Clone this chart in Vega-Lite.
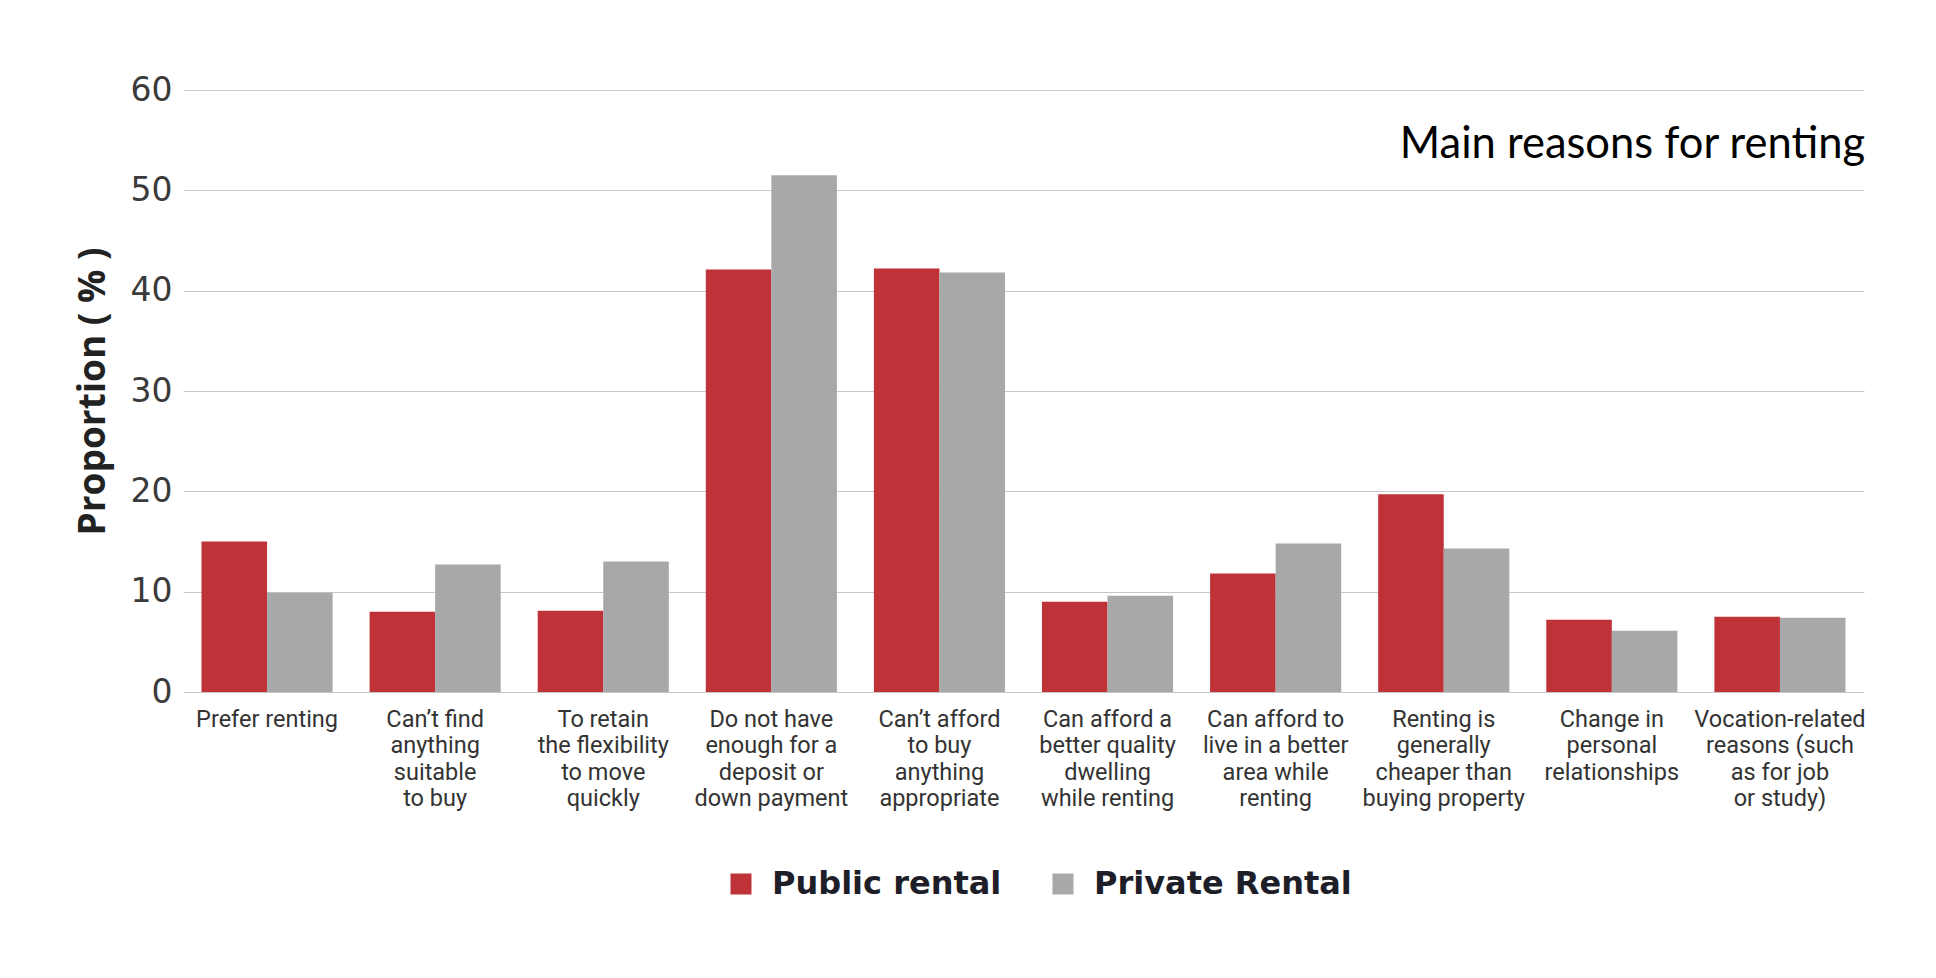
{
  "$schema": "https://vega.github.io/schema/vega-lite/v6.json",
  "autosize": "none",
  "width": 1681,
  "height": 602,
  "padding": {"left": 183, "top": 90, "right": 72, "bottom": 286},
  "background": "white",
  "title": {
    "text": "Main reasons for renting",
    "anchor": "end",
    "orient": "top",
    "offset": -93,
    "font": "Lato",
    "fontSize": 43.5,
    "fontWeight": "normal",
    "color": "#000000"
  },
  "data": {
    "values": [
      {"category": "Prefer renting", "tenure": "Public rental", "value": 15.0},
      {"category": "Prefer renting", "tenure": "Private Rental", "value": 9.9},
      {"category": "Can’t find|anything|suitable|to buy", "tenure": "Public rental", "value": 8.0},
      {"category": "Can’t find|anything|suitable|to buy", "tenure": "Private Rental", "value": 12.7},
      {"category": "To retain|the flexibility|to move|quickly", "tenure": "Public rental", "value": 8.1},
      {"category": "To retain|the flexibility|to move|quickly", "tenure": "Private Rental", "value": 13.0},
      {"category": "Do not have|enough for a|deposit or|down payment", "tenure": "Public rental", "value": 42.1},
      {"category": "Do not have|enough for a|deposit or|down payment", "tenure": "Private Rental", "value": 51.5},
      {"category": "Can’t afford|to buy|anything|appropriate", "tenure": "Public rental", "value": 42.2},
      {"category": "Can’t afford|to buy|anything|appropriate", "tenure": "Private Rental", "value": 41.8},
      {"category": "Can afford a|better quality|dwelling|while renting", "tenure": "Public rental", "value": 9.0},
      {"category": "Can afford a|better quality|dwelling|while renting", "tenure": "Private Rental", "value": 9.6},
      {"category": "Can afford to|live in a better|area while|renting", "tenure": "Public rental", "value": 11.8},
      {"category": "Can afford to|live in a better|area while|renting", "tenure": "Private Rental", "value": 14.8},
      {"category": "Renting is|generally|cheaper than|buying property", "tenure": "Public rental", "value": 19.7},
      {"category": "Renting is|generally|cheaper than|buying property", "tenure": "Private Rental", "value": 14.3},
      {"category": "Change in|personal|relationships", "tenure": "Public rental", "value": 7.2},
      {"category": "Change in|personal|relationships", "tenure": "Private Rental", "value": 6.1},
      {"category": "Vocation-related|reasons (such|as for job|or study)", "tenure": "Public rental", "value": 7.5},
      {"category": "Vocation-related|reasons (such|as for job|or study)", "tenure": "Private Rental", "value": 7.4}
    ]
  },
  "mark": {"type": "bar"},
  "encoding": {
    "x": {
      "field": "category",
      "type": "nominal",
      "sort": null,
      "scale": {"paddingInner": 0.22, "paddingOuter": 0.11},
      "axis": {
        "title": null,
        "labelAngle": 0,
        "labelExpr": "split(datum.value, '|')",
        "labelFont": "Roboto",
        "labelFontSize": 23.5,
        "labelLineHeight": 26.5,
        "labelColor": "#333333",
        "labelBaseline": "top",
        "labelPadding": 15,
        "labelLimit": 0,
        "ticks": false,
        "domain": false,
        "grid": false
      }
    },
    "xOffset": {
      "field": "tenure",
      "type": "nominal",
      "sort": ["Public rental", "Private Rental"],
      "scale": {"paddingInner": 0, "paddingOuter": 0}
    },
    "y": {
      "field": "value",
      "type": "quantitative",
      "scale": {"domain": [0, 60], "nice": false},
      "axis": {
        "title": "Proportion ( % )",
        "titleFont": "Open Sans",
        "titleFontSize": 37,
        "titleFontWeight": "bold",
        "titleColor": "#222222",
        "titlePadding": 18,
        "values": [0, 10, 20, 30, 40, 50, 60],
        "labelFont": "DejaVu Sans",
        "labelFontSize": 33,
        "labelColor": "#3a3a3a",
        "labelPadding": 11,
        "ticks": false,
        "domain": false,
        "grid": true,
        "gridColor": "#c8c8c8",
        "gridWidth": 1.2
      }
    },
    "color": {
      "field": "tenure",
      "type": "nominal",
      "sort": ["Public rental", "Private Rental"],
      "scale": {"domain": ["Public rental", "Private Rental"], "range": ["#bf3237", "#a7a8aa"]},
      "legend": {
        "title": null,
        "orient": "none",
        "direction": "horizontal",
        "legendX": 542,
        "legendY": 778,
        "symbolType": "square",
        "symbolSize": 441,
        "symbolStrokeWidth": 0,
        "labelFont": "DejaVu Sans",
        "labelFontSize": 32,
        "labelFontWeight": "bold",
        "labelColor": "#1e1e28",
        "labelOffset": 15,
        "columnPadding": 45,
        "labelLimit": 0
      }
    }
  },
  "config": {
    "view": {"stroke": null}
  }
}
